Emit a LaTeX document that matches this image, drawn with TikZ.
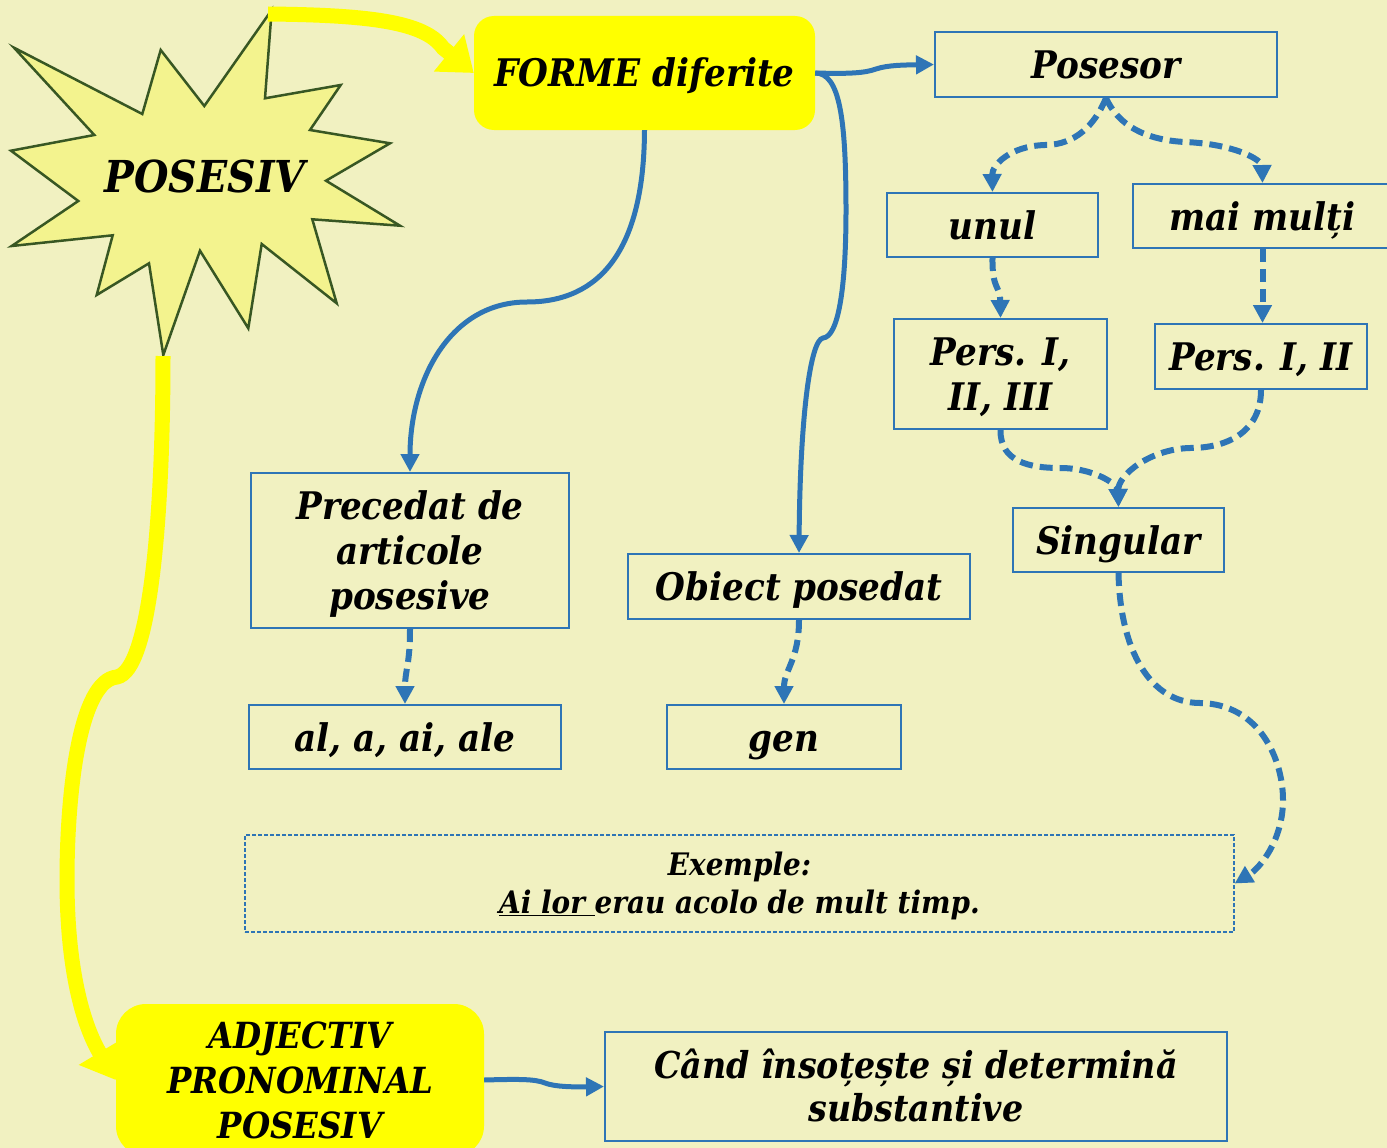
\documentclass[tikz,border=0pt]{standalone}
\usepackage{fontspec}
\newfontfamily\cam{DejaVu Serif Condensed Bold Italic}
\usetikzlibrary{arrows.meta}
\definecolor{bg}{RGB}{241,241,193}
\definecolor{bl}{RGB}{46,117,182}
\definecolor{starfill}{RGB}{243,243,142}
\definecolor{stardraw}{RGB}{56,87,35}
\definecolor{yel}{RGB}{255,255,0}
\tikzset{
 box/.style={draw=bl, line width=2pt, align=center, inner sep=0pt, text height=28pt, text depth=0pt, font=\cam\fontsize{38}{45}\selectfont},
 ybox/.style={fill=yel, rounded corners=20pt, align=center, inner sep=0pt, text height=28pt, text depth=0pt, font=\cam\fontsize{38}{45}\selectfont},
 sol/.style={draw=bl, line width=5pt, -{Triangle[length=18pt,width=18pt]}},
 dsh/.style={draw=bl, line width=6pt, dash pattern=on 13pt off 7pt, -{Triangle[length=18pt,width=18pt]}},
 yarr/.style={draw=yel, line width=15pt, -{Triangle[length=32pt,width=46pt]}},
 starsty/.style={fill=starfill, draw=stardraw, line width=2.5pt, line join=miter},
}
\begin{document}
\begin{tikzpicture}[x=1pt,y=-1pt]
\path[use as bounding box, fill=bg] (0,0) rectangle (1387,1148);
% star
\draw[starsty] (271.7,10) -- (265,98.3) -- (340.7,85) -- (310,130) -- (390,143.3) -- (326,180.7) -- (400,225.7) -- (312.3,219.3) -- (336.7,303.3) -- (261.7,244) -- (248.3,328.3) -- (200,250.7) -- (163.3,355) -- (149,263.3) -- (96.7,295) -- (112.7,235.3) -- (11.7,246) -- (78.3,201) -- (11,150.7) -- (94.3,135) -- (14,47.7) -- (142.3,114) -- (160.7,50) -- (204.3,106) -- cycle;
\coordinate (startop) at (268,14);
\coordinate (starbot) at (163,356);
\node[font=\cam\fontsize{44}{50}\selectfont, text height=32pt, text depth=0pt, inner sep=0pt] (posesiv) at (205,176) {POSESIV};
% yellow boxes
\node[ybox, minimum width=341pt, minimum height=114pt] (forme) at (644.5,73) {FORME diferite};
\node[ybox, rounded corners=30pt, minimum width=368pt, minimum height=152pt, font=\cam\fontsize{36}{45}\selectfont, text height=116pt, text depth=0pt] (adj) at (300,1080) {ADJECTIV\\PRONOMINAL\\POSESIV};
% blue boxes
\node[box, minimum width=342pt, minimum height=65pt] (pos) at (1106,64.5) {Posesor};
\node[box, minimum width=211pt, minimum height=64pt] (unul) at (992.5,225) {unul};
\node[box, minimum width=259pt, minimum height=64pt] (multi) at (1262.5,216) {mai mulți};
\node[box, minimum width=213pt, minimum height=110pt, text height=73pt] (p3) at (1000.5,374) {Pers. I,\\II, III};
\node[box, minimum width=212pt, minimum height=65pt] (p2) at (1261,356.5) {Pers. I, II};
\node[box, minimum width=211pt, minimum height=64pt] (sing) at (1118.5,540) {Singular};
\node[box, minimum width=318pt, minimum height=155pt, text height=118pt] (prec) at (410,550.5) {Precedat de\\articole\\posesive};
\node[box, minimum width=342pt, minimum height=65pt] (obj) at (799,586.5) {Obiect posedat};
\node[box, minimum width=312pt, minimum height=64pt] (al) at (405,737) {al, a, ai, ale};
\node[box, minimum width=234pt, minimum height=64pt] (gen) at (784,737) {gen};
\node[draw=bl, line width=1.2pt, dash pattern=on 4pt off 2pt, minimum width=989pt, minimum height=97pt, align=center, inner sep=0pt, text height=60pt, text depth=0pt, font=\cam\fontsize{31}{38}\selectfont] (ex) at (739.5,883.5) {Exemple:\\\underline{Ai lor\ }erau acolo de mult timp.};
\node[box, minimum width=622pt, minimum height=109pt, text height=70pt, font=\cam\fontsize{37}{43}\selectfont] (cand) at (916,1086.5) {Când însoțește și determină\\substantive};
% yellow arrows
\draw[yarr] (startop) .. controls (370,15) and (425,22) .. (443,48) -- (forme.west);
\draw[yarr] (starbot) .. controls (163,520) and (150,670) .. (117,677) .. controls (80,680) and (67,790) .. (67,880) .. controls (67,960) and (80,1020) .. (adj.west);
% solid connectors
\draw[sol] (forme.south) .. controls (644,250) and (600,302) .. (527,302) .. controls (450,302) and (410,380) .. (prec.north);
\draw[sol] (forme.east) .. controls (840,73) and (846,120) .. (846,210) .. controls (846,290) and (838,337) .. (823,338) .. controls (810,340) and (800,420) .. (obj.north);
\draw[sol] (forme.east) .. controls (850,74) and (865,73) .. (876,69) .. controls (888,65) and (905,65) .. (pos.west);
\draw[sol] (adj.east) .. controls (520,1079) and (535,1079) .. (545,1083) .. controls (555,1087) and (575,1087) .. (cand.west);
% dashed connectors
\draw[dsh] (pos.south) .. controls (1095,125) and (1075,145) .. (1045,145) .. controls (1010,146) and (992,165) .. (unul.north);
\draw[dsh] (pos.south) .. controls (1118,125) and (1145,140) .. (1185,142) .. controls (1235,144) and (1262,160) .. (multi.north);
\draw[dsh] (unul.south) .. controls (992,290) and (1000,285) .. (p3.north);
\draw[dsh] (multi.south) -- (multi.south |- p2.north);
\draw[dsh] (p3.south) .. controls (1000,462) and (1030,468) .. (1060,468) .. controls (1095,468) and (1118,485) .. (sing.north);
\draw[dsh] (p2.south) .. controls (1261,430) and (1230,448) .. (1190,448) .. controls (1150,449) and (1118,475) .. (sing.north);
\draw[dsh] (sing.south) .. controls (1120,650) and (1150,703) .. (1200,703) .. controls (1260,704) and (1283,760) .. (1283,800) .. controls (1283,840) and (1260,868) .. (ex.east);
\draw[dsh] (prec.south) .. controls (410,665) and (405,670) .. (al.north);
\draw[dsh] (obj.south) .. controls (799,660) and (784,670) .. (gen.north);
\end{tikzpicture}
\end{document}
